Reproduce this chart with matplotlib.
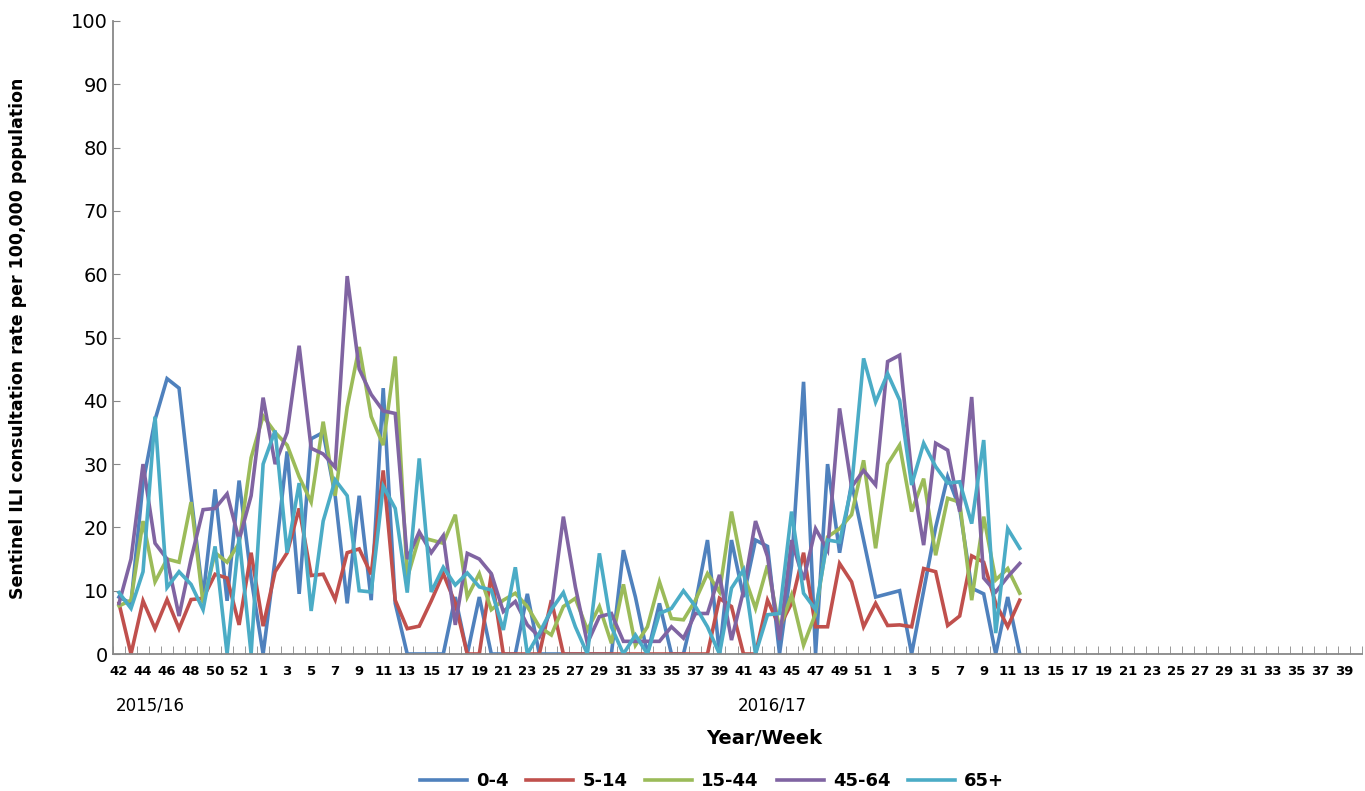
import numpy as np
import matplotlib
matplotlib.use("Agg")
import matplotlib.pyplot as plt

weeks = [str(w) for w in range(42, 54)] + [str(w) for w in range(1, 53)] + [str(w) for w in range(1, 41)]

age_0_4 = ([9,8,27,37,43.5,42,25,9,26,8.4,27.4,12,0,15,32,9.5,34,35,25,8,25,8.5,42,8,0]
    + [0,0,0,9,0,9,0,0,0,9.5,0,0,0,0,0,0,0,16.4,9,0,8,0,0,8,18,0,18,9,18,17,0,14,43,0,30,16,27,18,9]
    + [9.5,10,0,10,20,28,23,10.4,9.5,0,9,0])
age_5_14 = ([8,0,8.4,4,8.6,4,8.6,8.8,12.6,12,4.6,16,4.4,13,16,23,12.4,12.6,8.6,16,16.6,12.6,29,8.5,4]
    + [4.4,8.4,12.7,8,0,0,12.6,0,0,0,0,8.5,0,0,0,0,0,0,0,0,0,0,0,0,0,8.8,7.5,0,0,8.5,4.3,8,16,4.3,4.3,14.3,11.4,4.3,8,4.3][:39]
    + [4.5,4.6,4.3,13.5,13,4.5,6,15.5,14.5,8,4.3,8.5])
age_15_44 = ([7.6,8.5,21,11.4,15,14.5,24,8,16,14.5,17.5,31,37.6,35,33,28,24,36.7,25,39,48.5,37.5,33,47,12]
    + [18.5,18,17.5,22,9,12.7,7,8.5,9.6,7.5,4.3,3,7.5,8.8,3.8,7.5,1.7,11,1.4,4.3,11.4,5.6,5.4,8.5,12.7,9.8,22.5,12.7,7.2,14,4,9.3,1.4,6.4,18.5,19.8,22,30.6,16.7]
    + [30,33,22.5,27.7,15.6,24.6,24,8.5,21.7,11.7,13.5,9.6])
age_45_64 = ([8,15,30,17.5,15,6,15,22.8,23,25.3,18,25,40.5,30,35,48.7,32.5,31.6,29.5,59.7,45,41,38.4,38,15]
    + [19.3,16,18.7,4.6,15.9,15,12.7,6.7,8.3,4.6,2.7,7,21.7,10.6,1.7,5.9,6.4,2,2,2,2,4.3,2.5,6.4,6.4,12.5,2.2,10,21,15.4,2.2,18,11.7,19.8,16.4,38.8,26.4,29,26.7]
    + [46.2,47.2,28.5,17.2,33.3,32.2,22.5,40.6,12,9.8,12.2,14.3])
age_65 = ([9.7,7.2,13,37.5,10.5,13,11,7,17,0,18.5,0,30,35.3,16,27,6.8,21,27.5,25,10,9.8,26.5,23,9.7]
    + [30.9,9.8,13.7,10.9,12.8,10.6,10.1,3.8,13.7,0,3.3,7,9.7,4.3,0,15.9,4.3,0,3,0,6.4,7.2,10,7.5,4.3,0,10.4,13.3,0,6.2,6.4,22.5,9.6,7,18,17.7,26.4,46.7,39.8]
    + [44.3,40.1,26.7,33.3,29.6,27,27.2,20.6,33.8,3.3,19.8,16.7])

series = [("0-4", age_0_4, "#4F81BD"), ("5-14", age_5_14, "#C0504D"),
          ("15-44", age_15_44, "#9BBB59"), ("45-64", age_45_64, "#8064A2"),
          ("65+", age_65, "#4BACC6")]

fig = plt.figure(figsize=(13.65, 7.91), dpi=100)
ax = fig.add_axes([113/1365, 1-654/791, (1362-113)/1365, (654-21)/791])
n = len(weeks)
for name, vals, c in series:
    ax.plot(np.arange(len(vals)), vals, color=c, lw=2.6, label=name, solid_joinstyle='miter')

ax.set_xlim(-0.5, n - 0.5)
ax.set_ylim(0, 100)
ax.set_yticks(range(0, 101, 10))
ax.tick_params(axis='y', labelsize=14, length=5, color='#888888', direction='in')
ax.set_xticks(np.arange(0, n, 2))
ax.set_xticklabels(weeks[::2], fontsize=9.5, fontweight='bold')
ax.set_xticks(np.arange(-0.5, n, 1), minor=True)
ax.tick_params(axis='x', which='major', length=0, pad=8)
ax.tick_params(axis='x', which='minor', length=6, color='#888888', direction='in')
for s in ['top', 'right']:
    ax.spines[s].set_visible(False)
for s in ['left', 'bottom']:
    ax.spines[s].set_color('#888888')
    ax.spines[s].set_linewidth(1.3)

fig.text(18/1365, 1-338/791, "Sentinel ILI consultation rate per 100,000 population", fontsize=12.5,
         fontweight='bold', rotation=90, ha='center', va='center')
fig.text(150/1365, 1-705/791, "2015/16", fontsize=12, ha='center', va='center')
fig.text(772/1365, 1-705/791, "2016/17", fontsize=12, ha='center', va='center')
fig.text(764/1365, 1-738/791, "Year/Week", fontsize=14, fontweight='bold', ha='center', va='center')
leg = fig.legend(loc='center', bbox_to_anchor=(712/1365, 1-781/791), ncol=5, frameon=False,
                 prop={'weight': 'bold', 'size': 13}, handlelength=2.6, columnspacing=1.0,
                 handletextpad=0.5)
fig.savefig("out.png", dpi=100)
